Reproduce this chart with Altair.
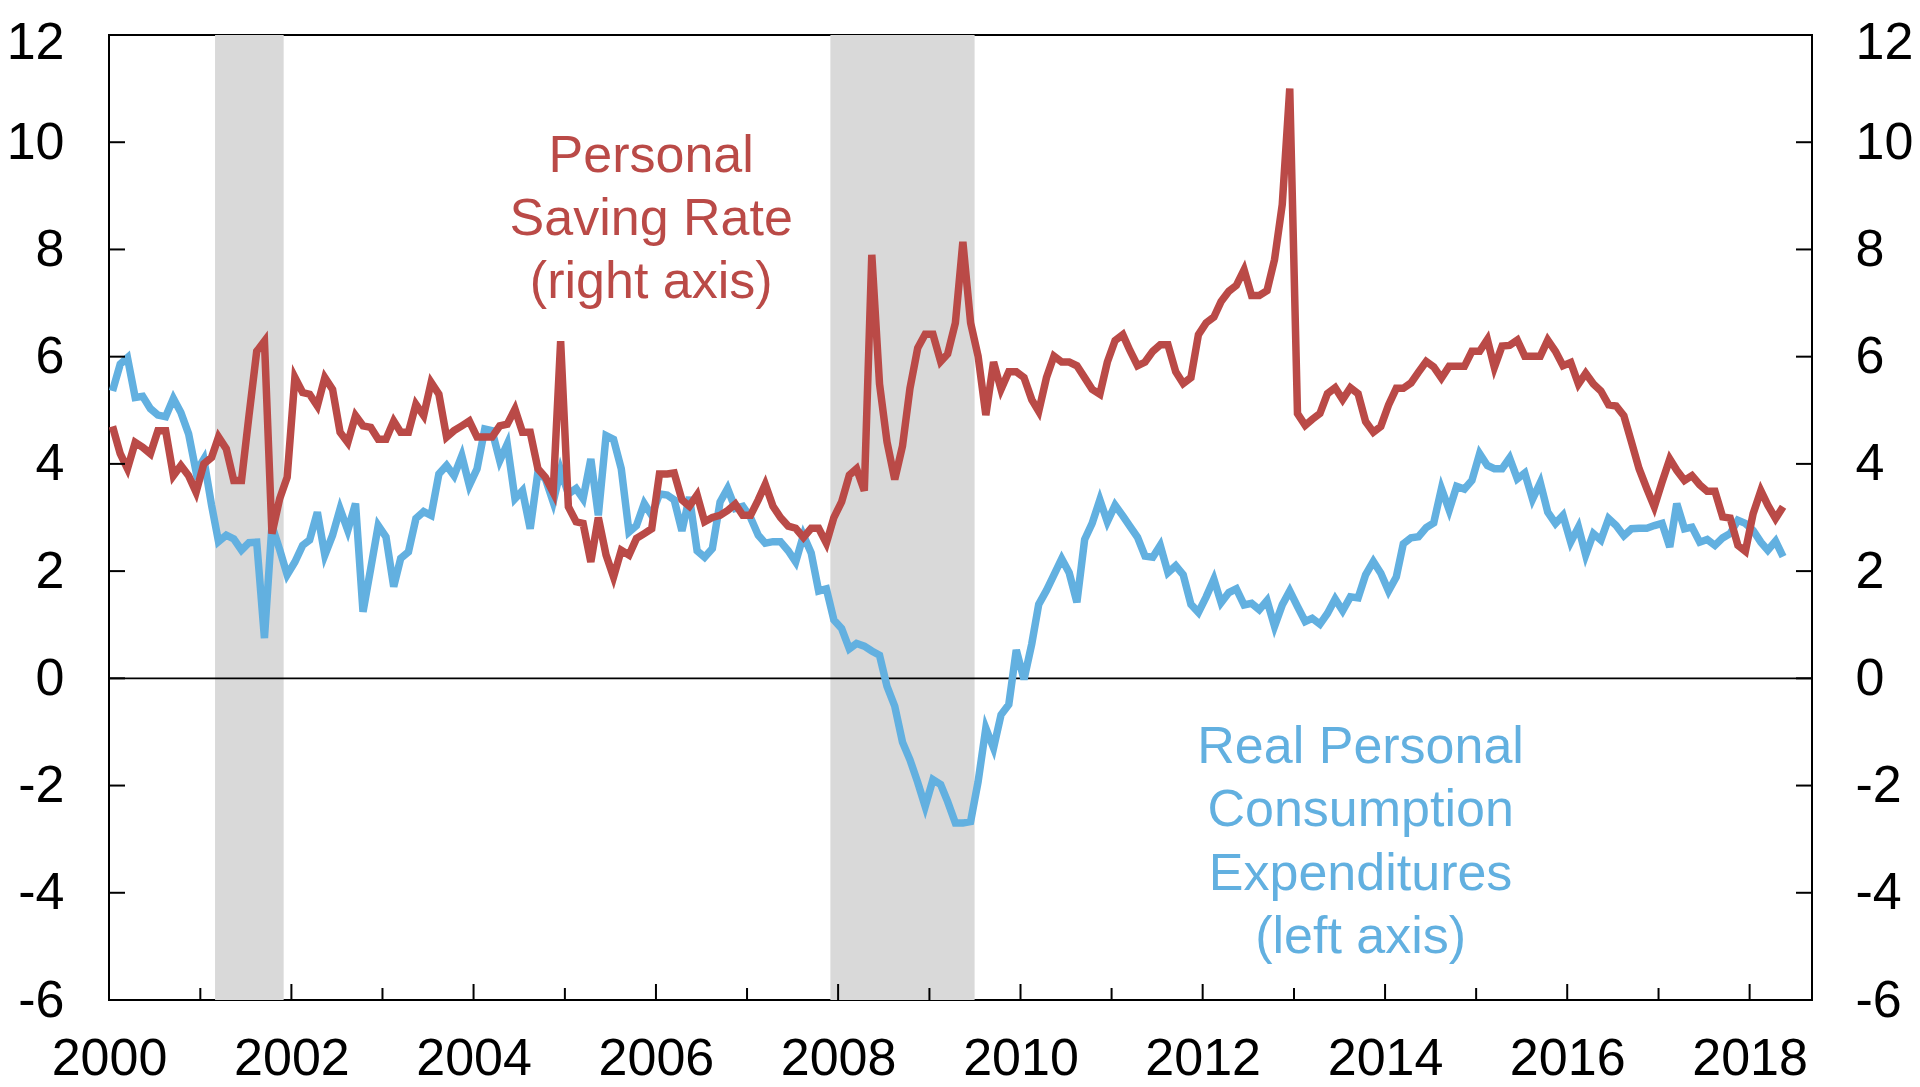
import altair as alt
import pandas as pd

# ---------------- data (monthly, Jan 2000 - May 2018) ----------------
pce_growth = [
    5.36, 5.86, 5.98, 5.24, 5.26, 5.03, 4.91, 4.88, 5.22, 4.96, 4.56, 3.85,
    4.09, 3.23, 2.55, 2.67, 2.60, 2.39, 2.53, 2.54, 0.75, 2.85, 2.40, 1.93,
    2.17, 2.48, 2.58, 3.10, 2.30, 2.67, 3.16, 2.76, 3.26, 1.24, 2.05, 2.85,
    2.64, 1.71, 2.24, 2.36, 2.98, 3.11, 3.04, 3.81, 3.97, 3.78, 4.15, 3.60,
    3.91, 4.65, 4.62, 4.06, 4.37, 3.35, 3.50, 2.79, 3.85, 3.72, 3.29, 3.88,
    3.44, 3.54, 3.35, 4.09, 3.04, 4.53, 4.46, 3.91, 2.73, 2.85, 3.26, 3.04,
    3.44, 3.42, 3.33, 2.75, 3.38, 2.38, 2.26, 2.42, 3.29, 3.54, 3.17, 3.21,
    3.00, 2.67, 2.52, 2.55, 2.55, 2.38, 2.17, 2.67, 2.34, 1.63, 1.67, 1.09,
    0.93, 0.55, 0.65, 0.60, 0.51, 0.43, -0.15, -0.52, -1.19, -1.52, -1.94, -2.39,
    -1.89, -1.98, -2.30, -2.70, -2.70, -2.67, -1.93, -0.93, -1.30, -0.68, -0.49, 0.53,
    -0.02, 0.64, 1.38, 1.64, 1.93, 2.23, 1.97, 1.42, 2.59, 2.89, 3.33, 2.92,
    3.23, 3.03, 2.84, 2.63, 2.28, 2.26, 2.48, 1.97, 2.10, 1.93, 1.38, 1.23,
    1.52, 1.85, 1.41, 1.60, 1.67, 1.37, 1.40, 1.28, 1.45, 0.97, 1.37, 1.63,
    1.34, 1.06, 1.12, 1.01, 1.21, 1.48, 1.26, 1.52, 1.50, 1.93, 2.18, 1.96,
    1.63, 1.89, 2.51, 2.62, 2.64, 2.81, 2.90, 3.54, 3.14, 3.58, 3.53, 3.69,
    4.19, 3.97, 3.91, 3.91, 4.11, 3.72, 3.83, 3.34, 3.65, 3.10, 2.89, 3.04,
    2.54, 2.82, 2.30, 2.70, 2.58, 2.98, 2.85, 2.66, 2.79, 2.80, 2.80, 2.85,
    2.89, 2.45, 3.26, 2.79, 2.82, 2.54, 2.59, 2.48, 2.62, 2.70, 2.95, 2.89,
    2.76, 2.54, 2.39, 2.56, 2.27,
]

saving_rate = [
    4.70, 4.19, 3.91, 4.40, 4.31, 4.19, 4.62, 4.62, 3.78, 3.97, 3.78, 3.47,
    4.00, 4.12, 4.50, 4.28, 3.69, 3.69, 4.90, 6.10, 6.29, 2.70, 3.35, 3.75,
    5.61, 5.33, 5.30, 5.08, 5.61, 5.39, 4.59, 4.40, 4.90, 4.71, 4.68, 4.46,
    4.46, 4.80, 4.59, 4.59, 5.11, 4.90, 5.52, 5.30, 4.50, 4.62, 4.71, 4.80,
    4.50, 4.50, 4.50, 4.71, 4.74, 5.02, 4.59, 4.59, 3.91, 3.75, 3.47, 6.29,
    3.20, 2.92, 2.89, 2.17, 3.00, 2.30, 1.89, 2.39, 2.30, 2.61, 2.70, 2.79,
    3.81, 3.81, 3.83, 3.33, 3.21, 3.42, 2.92, 3.00, 3.04, 3.13, 3.25, 3.04,
    3.04, 3.33, 3.62, 3.21, 3.00, 2.84, 2.80, 2.63, 2.80, 2.80, 2.52, 3.00,
    3.29, 3.79, 3.91, 3.50, 7.90, 5.49, 4.41, 3.71, 4.33, 5.41, 6.16, 6.42,
    6.42, 5.91, 6.05, 6.63, 8.14, 6.63, 6.01, 4.91, 5.90, 5.39, 5.72, 5.72,
    5.61, 5.20, 4.98, 5.61, 6.01, 5.90, 5.90, 5.83, 5.61, 5.39, 5.30, 5.90,
    6.30, 6.41, 6.12, 5.83, 5.90, 6.10, 6.22, 6.22, 5.72, 5.50, 5.61, 6.41,
    6.63, 6.74, 7.03, 7.22, 7.33, 7.62, 7.14, 7.14, 7.23, 7.81, 8.84, 11.00,
    4.94, 4.72, 4.83, 4.94, 5.31, 5.42, 5.20, 5.42, 5.31, 4.79, 4.59, 4.70,
    5.10, 5.41, 5.41, 5.51, 5.71, 5.91, 5.81, 5.60, 5.82, 5.82, 5.82, 6.10,
    6.10, 6.32, 5.80, 6.20, 6.21, 6.31, 6.01, 6.01, 6.01, 6.31, 6.10, 5.83,
    5.89, 5.49, 5.69, 5.49, 5.36, 5.10, 5.08, 4.90, 4.40, 3.91, 3.54, 3.20,
    3.66, 4.09, 3.88, 3.69, 3.78, 3.61, 3.49, 3.49, 3.01, 2.99, 2.48, 2.37,
    3.07, 3.50, 3.23, 2.98, 3.20,
]

assert len(pce_growth) == len(saving_rate) == 221

month_dates = [d.strftime("%Y-%m-15") for d in pd.date_range("2000-01-01", periods=221, freq="MS")]

recession_start = ["2001-03-01", "2007-12-01"]
recession_end = ["2001-12-01", "2009-07-01"]

y_ticks = [-6, -4, -2, 0, 2, 4, 6, 8, 10, 12]
x_major_years = [2000, 2002, 2004, 2006, 2008, 2010, 2012, 2014, 2016, 2018]
x_minor_years = [2001, 2003, 2005, 2007, 2009, 2011, 2013, 2015, 2017]
zero_line = [0]

red_label_lines = ["Personal", "Saving Rate", "(right axis)"]
red_label_y = [9.44, 8.27, 7.10]
red_label_date = "2005-12-13"
blue_label_lines = ["Real Personal", "Consumption", "Expenditures", "(left axis)"]
blue_label_y = [-1.57, -2.76, -3.94, -5.13]
blue_label_date = "2013-09-25"

# ---------------- styling ----------------
RED = "#BA4A47"
BLUE = "#62B0E0"
GRAY = "#D9D9D9"
FONT = "Liberation Sans"
W, H = 1703, 965
LINE_W = 7.5

df = pd.DataFrame({"date": month_dates, "pce": pce_growth, "saving": saving_rate})
rec_df = pd.DataFrame({"start": recession_start, "end": recession_end})
ytick_df = pd.DataFrame({"v": y_ticks})
major_df = pd.DataFrame({"d": [f"{y}-01-01" for y in x_major_years]})
minor_df = pd.DataFrame({"d": [f"{y}-01-01" for y in x_minor_years]})
zero_df = pd.DataFrame({"v": zero_line})
red_lab_df = pd.DataFrame({"date": [red_label_date] * 3, "y": red_label_y, "t": red_label_lines})
blue_lab_df = pd.DataFrame({"date": [blue_label_date] * 4, "y": blue_label_y, "t": blue_label_lines})

xscale = alt.Scale(
    type="utc",
    domain=[alt.DateTime(year=2000, month=1, date=1, utc=True),
            alt.DateTime(year=2018, month=9, date=8, utc=True)],
)
xaxis = alt.Axis(
    values=[alt.DateTime(year=y, month=1, date=1, utc=True) for y in x_major_years],
    labelExpr="utcFormat(datum.value, '%Y')",
    labelPadding=33, title=None, labelFlush=False, labelOverlap=False,
)

# keep the top "12" label fully inside the picture
top_label_offset = {"condition": {"test": "datum.value == 12", "value": 7}, "value": 0}


def yscale():
    return alt.Scale(domain=[-6, 12], nice=False, zero=False)


rec = alt.Chart(rec_df).mark_rect(color=GRAY).encode(
    x=alt.X("start:T", scale=xscale, axis=xaxis),
    x2="end:T",
    y=alt.value(0), y2=alt.value(H),
)

zero = alt.Chart(zero_df).mark_rule(color="black", strokeWidth=1.6).encode(
    y=alt.Y("v:Q", scale=yscale(), axis=None),
)

blue = alt.Chart(df).mark_line(color=BLUE, strokeWidth=LINE_W).encode(
    x=alt.X("date:T", scale=xscale, axis=xaxis),
    y=alt.Y("pce:Q", scale=yscale(),
            axis=alt.Axis(orient="left", values=y_ticks, labelPadding=45, title=None,
                          labelExpr="datum.value + ''", labelOffset=top_label_offset)),
)

red = alt.Chart(df).mark_line(color=RED, strokeWidth=LINE_W).encode(
    x=alt.X("date:T", scale=xscale, axis=xaxis),
    y=alt.Y("saving:Q", scale=yscale(),
            axis=alt.Axis(orient="right", values=y_ticks, labelPadding=43, title=None,
                          labelExpr="datum.value + ''", labelOffset=top_label_offset)),
)

left_ticks = alt.Chart(ytick_df).mark_rule(color="black", strokeWidth=2).encode(
    y=alt.Y("v:Q", scale=yscale(), axis=None),
    x=alt.value(0), x2=alt.value(16),
)
right_ticks = alt.Chart(ytick_df).mark_rule(color="black", strokeWidth=2).encode(
    y=alt.Y("v:Q", scale=yscale(), axis=None),
    x=alt.value(W - 16), x2=alt.value(W),
)
major_ticks = alt.Chart(major_df).mark_rule(color="black", strokeWidth=2).encode(
    x=alt.X("d:T", scale=xscale, axis=xaxis),
    y=alt.value(H - 16), y2=alt.value(H),
)
minor_ticks = alt.Chart(minor_df).mark_rule(color="black", strokeWidth=2).encode(
    x=alt.X("d:T", scale=xscale, axis=xaxis),
    y=alt.value(H - 12), y2=alt.value(H),
)

red_text = alt.Chart(red_lab_df).mark_text(
    color=RED, font=FONT, fontSize=52, align="center", baseline="alphabetic"
).encode(
    x=alt.X("date:T", scale=xscale, axis=xaxis),
    y=alt.Y("y:Q", scale=yscale(), axis=None),
    text="t:N",
)
blue_text = alt.Chart(blue_lab_df).mark_text(
    color=BLUE, font=FONT, fontSize=52, align="center", baseline="alphabetic"
).encode(
    x=alt.X("date:T", scale=xscale, axis=xaxis),
    y=alt.Y("y:Q", scale=yscale(), axis=None),
    text="t:N",
)

chart = alt.layer(
    rec, zero, blue, red, left_ticks, right_ticks, major_ticks, minor_ticks, red_text, blue_text
).resolve_scale(
    y="independent"
).properties(
    width=W, height=H,
    autosize=alt.AutoSizeParams(type="none"),
    padding={"left": 101, "top": 27, "right": 100, "bottom": 87},
).configure_view(
    stroke="black", strokeWidth=2
).configure_axis(
    labelFont=FONT, labelFontSize=52, labelColor="black",
    domain=False, ticks=False, tickSize=0, grid=False,
)

chart.save("out.html", embed_options={"renderer": "svg", "actions": False})
